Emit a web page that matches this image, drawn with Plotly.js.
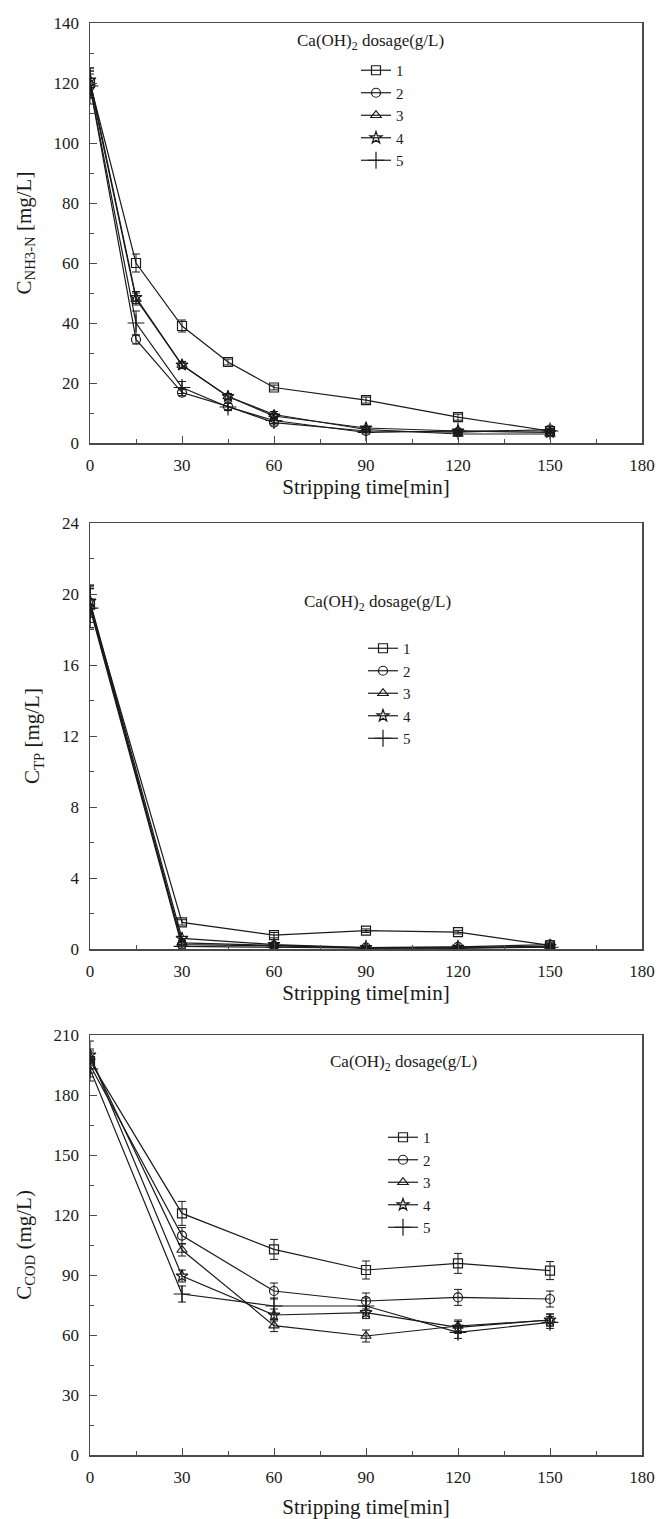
<!DOCTYPE html>
<html><head><meta charset="utf-8">
<script src="https://cdn.plot.ly/plotly-3.0.1.min.js"></script>
<style>body{margin:0;background:#fff}#chart{width:666px;height:1519px}</style>
</head><body><div id="chart"></div>
<script>
// ---- data ----
const dosageLabels = ['1', '2', '3', '4', '5'];
const symbols = ['square-open', 'circle-open', 'triangle-up-open', 'star-open', 'cross-thin-open'];

const nhTime = [0, 15, 30, 45, 60, 90, 120, 150];
const nh1 = [120, 60, 39, 27, 18.5, 14.3, 8.6, 4];
const nh2 = [119, 34.5, 16.8, 12.2, 6.8, 4, 3.6, 4.5];
const nh3 = [120, 48, 26, 15.5, 9.5, 4.5, 3, 3];
const nh4 = [121, 48.5, 26, 15.5, 9, 5, 4, 3.5];
const nh5 = [119, 40, 18.5, 12, 7.5, 3.5, 4, 4];
const nh1Err = [5, 3, 2, 1, 0.8, 1, 1, 0.8];
const nh2Err = [4, 1.5, 1, 1, 0.8, 0.5, 0.5, 0.5];
const nh3Err = [4, 2, 1, 1, 1, 0.5, 0.5, 0.5];
const nh4Err = [3, 2, 1.2, 1, 0.8, 0.5, 0.5, 0.5];
const nh5Err = [6, 4, 2, 1.2, 1, 0.5, 0.5, 0.5];

const tpTime = [0, 30, 60, 90, 120, 150];
const tp1 = [19.4, 1.5, 0.78, 1.03, 0.95, 0.2];
const tp2 = [19.5, 0.25, 0.18, 0.08, 0.12, 0.25];
const tp3 = [19.3, 0.35, 0.2, 0.05, 0.05, 0.15];
const tp4 = [19.6, 0.6, 0.25, 0.08, 0.1, 0.15];
const tp5 = [19.2, 0.15, 0.1, 0.05, 0.05, 0.1];
const tp1Err = [1, 0.15, 0.15, 0.1, 0.1, 0.1];
const tp2Err = [0.8, 0.1, 0.1, 0.05, 0.05, 0.1];
const tp3Err = [1.2, 0.1, 0.1, 0.05, 0.05, 0.05];
const tp4Err = [0.9, 0.1, 0.1, 0.05, 0.05, 0.05];
const tp5Err = [1.1, 0.1, 0.05, 0.05, 0.05, 0.05];

const codTime = [0, 30, 60, 90, 120, 150];
const cod1 = [197, 120.8, 102.8, 92.5, 95.8, 92.2];
const cod2 = [195, 109.7, 82, 77, 78.8, 78];
const cod3 = [199, 102.5, 64.7, 59.5, 64.5, 67.5];
const cod4 = [200, 89.5, 70, 71.2, 63.8, 67.5];
const cod5 = [193, 80.5, 74.5, 74.5, 61.3, 66.3];
const cod1Err = [10, 6, 5, 4.5, 5, 4.5];
const cod2Err = [4, 4, 4, 4, 4, 4];
const cod3Err = [3, 3, 3, 3, 3, 3];
const cod4Err = [3, 3, 3, 3, 3, 3];
const cod5Err = [4, 4, 4, 4, 3, 3];

const xTitle = 'Stripping time[min]';
const yTitles = ['C<sub>NH3-N</sub> [mg/L]', 'C<sub>TP</sub> [mg/L]', 'C<sub>COD</sub> (mg/L)'];
const legendTitle = 'Ca(OH)<sub>2</sub> dosage(g/L)';

// ---- build ----
const FONT = "'Liberation Serif', 'Times New Roman', serif";
const INK = '#1a1a1a';
const panels = [
  {x: nhTime, ys: [nh1, nh2, nh3, nh4, nh5], es: [nh1Err, nh2Err, nh3Err, nh4Err, nh5Err]},
  {x: tpTime, ys: [tp1, tp2, tp3, tp4, tp5], es: [tp1Err, tp2Err, tp3Err, tp4Err, tp5Err]},
  {x: codTime, ys: [cod1, cod2, cod3, cod4, cod5], es: [cod1Err, cod2Err, cod3Err, cod4Err, cod5Err]}
];
const traces = [];
panels.forEach((p, pi) => {
  const sfx = pi === 0 ? '' : String(pi + 1);
  p.ys.forEach((yv, si) => {
    traces.push({
      type: 'scatter', mode: 'lines+markers',
      x: p.x, y: yv, name: dosageLabels[si],
      xaxis: 'x' + sfx, yaxis: 'y' + sfx,
      legend: 'legend' + sfx,
      line: {color: INK, width: 1.2},
      marker: {symbol: symbols[si], size: si === 4 ? 12 : 9, color: INK, line: {color: INK, width: 1.2}},
      error_y: {type: 'data', array: p.es[si], visible: true, color: INK, thickness: 1, width: 4}
    });
  });
});

// pixel helpers: plot area x 90..642, y 23..1455
const H = 1519, ML = 90, MR = 24, MT = 23, MB = 64;
const PW = 666 - ML - MR, PH = H - MT - MB;
const py = v => (H - MB - v) / PH;
const px = v => (v - ML) / PW;

const domains = [[py(443), py(23)], [py(949), py(523)], [py(1455), py(1035)]];
const yRanges = [[0, 140], [0, 24], [0, 210]];
const yDticks = [20, 4, 30];
const xStand = [4, 4, 14];

const axisBase = {
  showline: true, linecolor: '#4a4a4a', linewidth: 1.5, mirror: true,
  ticks: 'inside', ticklen: 7, tickwidth: 1, tickcolor: '#4a4a4a',
  showgrid: false, zeroline: false,
  tickfont: {family: FONT, size: 17, color: INK}
};

const layout = {
  width: 666, height: H,
  margin: {l: ML, r: MR, t: MT, b: MB},
  paper_bgcolor: '#fff', plot_bgcolor: '#fff',
  font: {family: FONT, color: INK, size: 17},
  annotations: []
};
for (let i = 0; i < 3; i++) {
  const sfx = i === 0 ? '' : String(i + 1);
  layout['xaxis' + sfx] = Object.assign({}, axisBase, {
    anchor: 'y' + sfx, domain: [0, 1], range: [0, 180], dtick: 30, tick0: 0,
    minor: {dtick: 15, ticks: 'inside', ticklen: 4, tickcolor: '#4a4a4a'},
    ticklabelstandoff: 6,
    title: {text: xTitle, font: {family: FONT, size: 21, color: INK}, standoff: xStand[i]}
  });
  layout['yaxis' + sfx] = Object.assign({}, axisBase, {
    anchor: 'x' + sfx, domain: domains[i], range: yRanges[i], dtick: yDticks[i], tick0: 0,
    minor: {dtick: yDticks[i] / 2, ticks: 'inside', ticklen: 4, tickcolor: '#4a4a4a'},
    ticklabelstandoff: 6,
    title: {text: yTitles[i], font: {family: FONT, size: 21, color: INK}, standoff: 16}
  });
}
// legends
const legTop = [54, 632, 1121];
const legLeft = [356, 363, 383];
const titleY = [42, 603, 1063];
const titleX = [295, 302, 328];
for (let i = 0; i < 3; i++) {
  const sfx = i === 0 ? '' : String(i + 1);
  layout['legend' + sfx] = {
    x: px(legLeft[i]), y: py(legTop[i]), xanchor: 'left', yanchor: 'top',
    bgcolor: 'rgba(0,0,0,0)', borderwidth: 0,
    font: {family: FONT, size: 15, color: INK},
    tracegroupgap: 0, itemwidth: 30
  };
  layout.annotations.push({
    xref: 'paper', yref: 'paper', x: px(titleX[i]), y: py(titleY[i]),
    xanchor: 'left', yanchor: 'middle', showarrow: false,
    text: legendTitle, font: {family: FONT, size: 17, color: INK}
  });
}

Plotly.newPlot('chart', traces, layout, {displayModeBar: false, staticPlot: true});
</script>
</body></html>
